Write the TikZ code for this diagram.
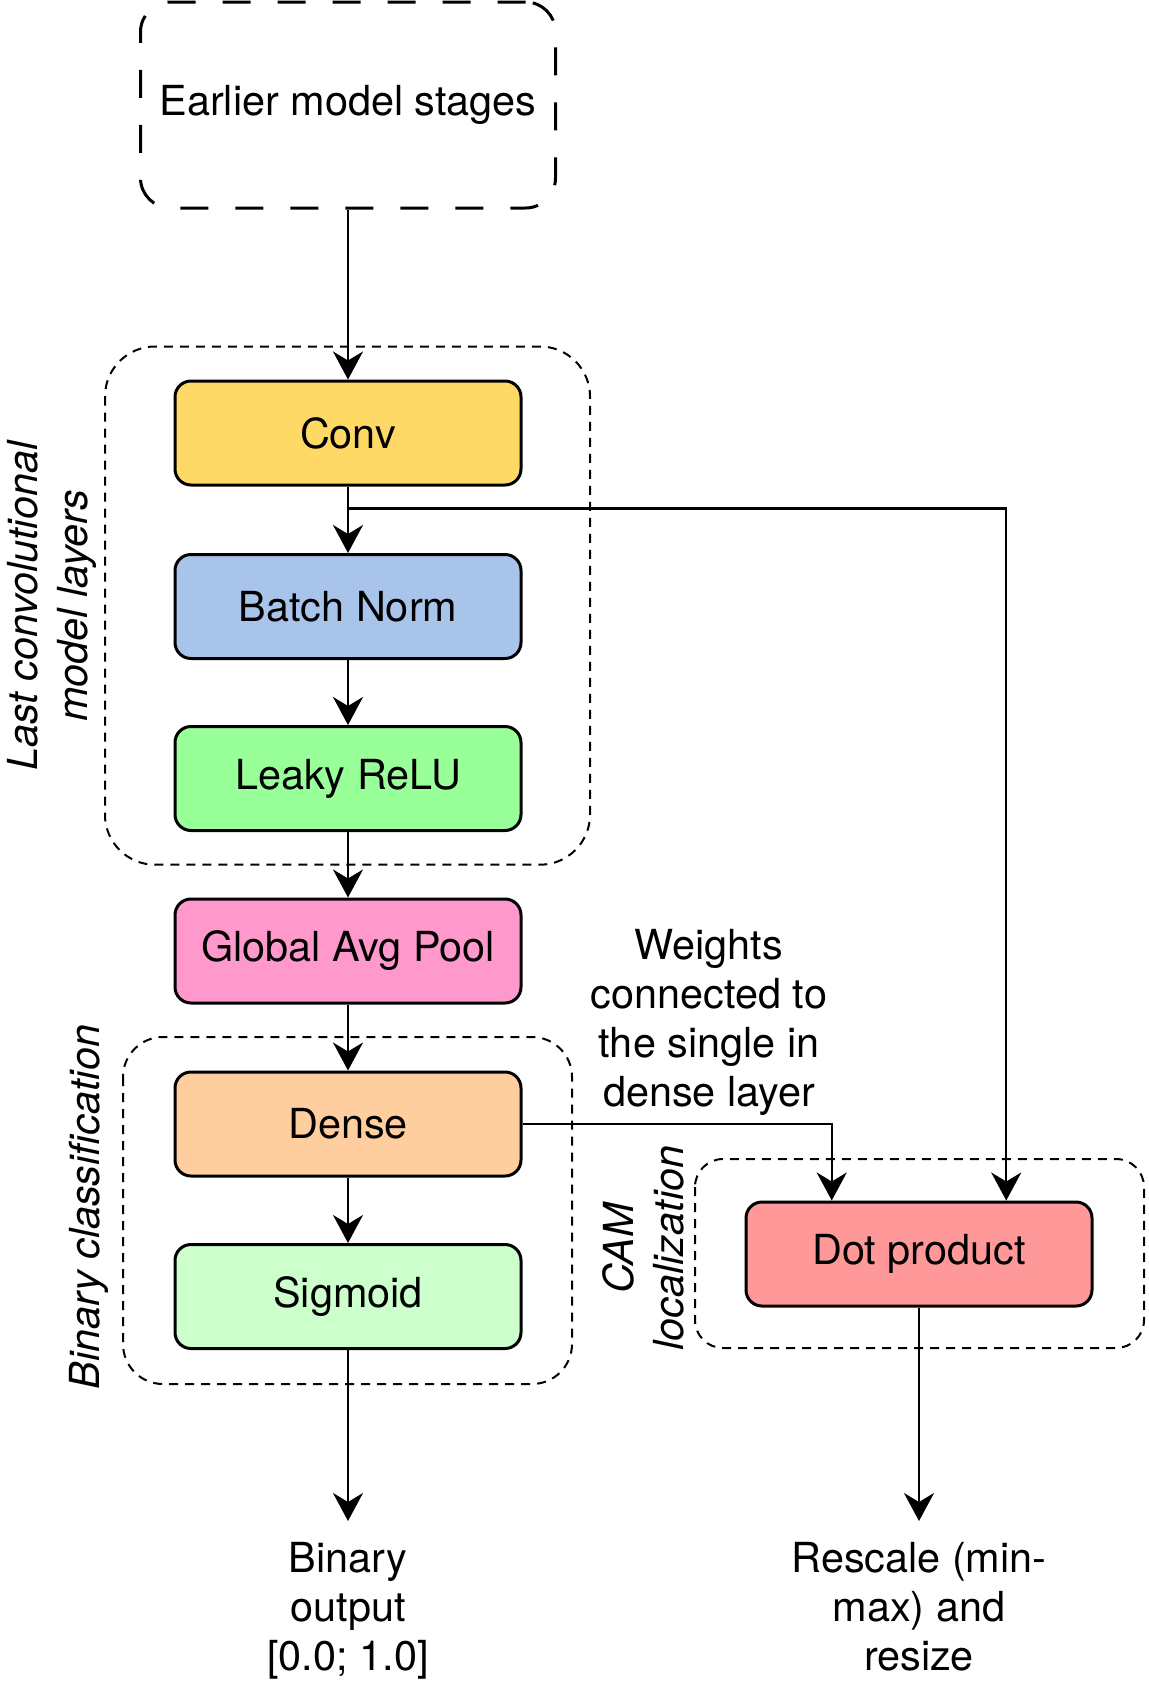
\documentclass[tikz,border=0pt]{standalone}
\usepackage{fontspec}
\setmainfont{TeX Gyre Heros}
\usetikzlibrary{arrows.meta,calc}
\definecolor{convc}{HTML}{FFD966}
\definecolor{bnc}{HTML}{A9C4EB}
\definecolor{reluc}{HTML}{99FF99}
\definecolor{gapc}{HTML}{FF99CC}
\definecolor{densec}{HTML}{FFCE9F}
\definecolor{sigc}{HTML}{CCFFCC}
\definecolor{dotc}{HTML}{FF9999}
\begin{document}
\begin{tikzpicture}[x=0.5pt,y=-0.5pt,
  txt/.style={font=\fontsize{20.7}{24.5}\selectfont, align=center, inner sep=0pt},
  blk/.style={txt, draw, line width=1.5pt, rounded corners=8pt, minimum width=173pt, minimum height=52pt},
  grp/.style={draw, line width=1pt, dash pattern=on 4.5pt off 3.5pt},
  arr/.style={line width=1.2pt, -{Stealth[length=14pt,width=15pt,inset=4.5pt]}},
  side/.style={txt, rotate=90, font=\fontsize{20.7}{25}\selectfont\itshape}
]
\useasboundingbox (0,0) rectangle (1149,1682);

% groups
\draw[grp, rounded corners=25pt] (105,346.5) rectangle (590,864.7);
\draw[grp, rounded corners=20pt] (123,1037) rectangle (572,1384);
\draw[grp, rounded corners=14pt] (695,1159) rectangle (1144,1348);

% earlier stages
\node[txt, draw, line width=1.5pt, dash pattern=on 14pt off 13.5pt, rounded corners=15pt,
      minimum width=207.5pt, minimum height=103pt] (earlier) at (348,105) {Earlier model stages};

% blocks
\node[blk, fill=convc] (conv) at (348,433) {Conv};
\node[blk, fill=bnc] (bn) at (348,606.5) {Batch Norm};
\node[blk, fill=reluc] (relu) at (348,778.5) {Leaky ReLU};
\node[blk, fill=gapc] (gap) at (348,951) {Global Avg Pool};
\node[blk, fill=densec] (dense) at (348,1124) {Dense};
\node[blk, fill=sigc] (sig) at (348,1296.5) {Sigmoid};
\node[blk, fill=dotc] (dot) at (919,1254) {Dot product};

% labels
\node[side] (lastlbl) at (52,606) {Last convolutional\\model layers};
\node[side] (binlbl) at (89,1207) {Binary classification};
\node[side] (camlbl) at (643,1248) {CAM\\localization};
\node[txt] (wlbl) at (709,1022) {Weights\\connected to\\the single in\\dense layer};

% outputs
\node[txt, anchor=north, inner ysep=10.5pt] (binout) at (348,1521) {Binary\\output\\{}[0.0; 1.0]};
\node[txt, anchor=north, inner ysep=10.5pt] (resc) at (919,1521) {Rescale (min-\\max) and\\resize};

% connectors
\coordinate (br) at (348,508.5);
\draw[arr] (earlier.south) -- (conv.north);
\draw[arr] (conv.south) -- (bn.north);
\draw[arr] (bn.south) -- (relu.north);
\draw[arr] (relu.south) -- (gap.north);
\draw[arr] (gap.south) -- (dense.north);
\draw[arr] (dense.south) -- (sig.north);
\draw[arr] (sig.south) -- (binout.north);
\draw[arr] (dot.south) -- (resc.north);
\draw[arr] (br) -| ($(dot.north west)!0.75!(dot.north east)$);
\draw[arr] (dense.east) -| ($(dot.north west)!0.25!(dot.north east)$);
\end{tikzpicture}
\end{document}
